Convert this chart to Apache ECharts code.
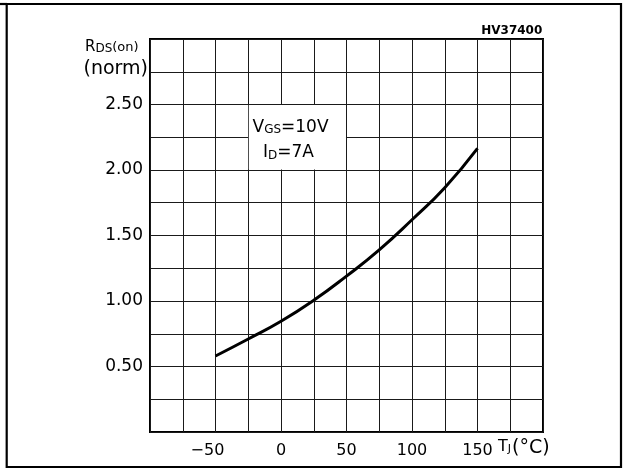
<!DOCTYPE html>
<html>
<head>
<meta charset="utf-8">
<script src="https://cdn.jsdelivr.net/npm/echarts@6/dist/echarts.min.js"></script>
<style>html,body{margin:0;padding:0;background:#fff;}#c{width:625px;height:471px;}</style>
</head>
<body>
<div id="c"></div>
<script>
// Data
var tempC = [-50, -25, 0, 25, 50, 75, 100, 125, 150];
var rdsNorm = [0.58, 0.71, 0.845, 1.005, 1.19, 1.39, 1.62, 1.865, 2.165];
var xTickLabels = [-50, 0, 50, 100, 150];
var yTickLabels = [0.5, 1.0, 1.5, 2.0, 2.5];
var noteBoxX = [-24.6, 49.6];
var noteBoxY = [2.004, 2.496];

var FONT = 'DejaVu Sans';
function has(arr, v) { for (var i = 0; i < arr.length; i++) { if (Math.abs(arr[i] - v) < 1e-6) return true; } return false; }

var chart = echarts.init(document.getElementById('c'), null, {renderer: 'canvas'});
chart.setOption({
  animation: false,
  backgroundColor: '#fff',
  grid: {left: 150, right: 82, top: 39, bottom: 39, show: true, borderColor: '#000', borderWidth: 2, backgroundColor: 'transparent'},
  xAxis: {
    type: 'value', min: -100, max: 200, interval: 25,
    axisLine: {show: false}, axisTick: {show: false},
    splitLine: {show: true, lineStyle: {color: '#1a1a1a', width: 1}},
    axisLabel: {
      show: true, margin: 11, color: '#000', fontFamily: FONT, fontSize: 16,
      formatter: function (v) {
        if (!has(xTickLabels, v)) return '';
        if (v < 0) return '{neg|\u2212' + Math.abs(v) + '}';
        return String(v);
      },
      rich: {neg: {fontFamily: FONT, fontSize: 16, color: '#000', padding: [0, 16, 0, 0]}}
    }
  },
  yAxis: {
    type: 'value', min: 0, max: 3, interval: 0.25,
    axisLine: {show: false}, axisTick: {show: false},
    splitLine: {show: true, lineStyle: {color: '#1a1a1a', width: 1}},
    axisLabel: {
      show: true, margin: 7, color: '#000', fontFamily: FONT, fontSize: 17, padding: [6, 0, 0, 0],
      formatter: function (v) { return has(yTickLabels, v) ? v.toFixed(2) : ''; }
    }
  },
  series: [{
    type: 'line',
    data: tempC.map(function (t, i) { return [t, rdsNorm[i]]; }),
    smooth: true,
    showSymbol: false,
    lineStyle: {color: '#000', width: 3},
    z: 5,
    markArea: {
      silent: true,
      itemStyle: {color: '#fff', borderWidth: 0},
      data: [[{coord: [noteBoxX[0], noteBoxY[1]]}, {coord: [noteBoxX[1], noteBoxY[0]]}]]
    }
  }],
  graphic: [
    {type: 'rect', shape: {x: 6.7, y: 4, width: 614.3, height: 463}, style: {fill: 'none', stroke: '#000', lineWidth: 2.2}, z: 100},
    {type: 'line', shape: {x1: 0, y1: 4, x2: 7, y2: 4}, style: {stroke: '#000', lineWidth: 2.2}, z: 100},
    {type: 'text', x: 542.3, y: 36.5, style: {text: 'HV37400', font: 'bold 12px "DejaVu Sans"', fill: '#000', align: 'right', verticalAlign: 'bottom'}, z: 100},
    {type: 'text', x: 85, y: 54.5, style: {
      text: '{a|R}{b|DS}{c|(on)}', align: 'left', verticalAlign: 'bottom', fill: '#000',
      rich: {
        a: {fontFamily: FONT, fontSize: 15, verticalAlign: 'bottom', fill: '#000'},
        b: {fontFamily: FONT, fontSize: 12, verticalAlign: 'bottom', fill: '#000'},
        c: {fontFamily: FONT, fontSize: 13, verticalAlign: 'bottom', fill: '#000'}
      }}, z: 100},
    {type: 'text', x: 148, y: 69.5, style: {text: '(norm)', fontFamily: FONT, fontSize: 19, fill: '#000', align: 'right', verticalAlign: 'middle'}, z: 100},
    {type: 'text', x: 252.5, y: 136, style: {
      text: '{a|V}{b|GS}{a|=10V}', align: 'left', verticalAlign: 'bottom',
      rich: {
        a: {fontFamily: FONT, fontSize: 17, verticalAlign: 'bottom', fill: '#000'},
        b: {fontFamily: FONT, fontSize: 12, verticalAlign: 'bottom', fill: '#000'}
      }}, z: 100},
    {type: 'text', x: 263, y: 161.5, style: {
      text: '{a|I}{b|D}{a|=7A}', align: 'left', verticalAlign: 'bottom',
      rich: {
        a: {fontFamily: FONT, fontSize: 17, verticalAlign: 'bottom', fill: '#000'},
        b: {fontFamily: FONT, fontSize: 12, verticalAlign: 'bottom', fill: '#000'}
      }}, z: 100},
    {type: 'text', x: 498, y: 454.5, style: {
      text: '{a|T}{b|J}', align: 'left', verticalAlign: 'bottom',
      rich: {
        a: {fontFamily: FONT, fontSize: 16, verticalAlign: 'bottom', fill: '#000'},
        b: {fontFamily: FONT, fontSize: 11, verticalAlign: 'bottom', fill: '#000'}
      }}, z: 100},
    {type: 'text', x: 512, y: 458, style: {text: '(\u00B0C)', fontFamily: FONT, fontSize: 19, fill: '#000', align: 'left', verticalAlign: 'bottom'}, z: 100}
  ]
});
</script>
</body>
</html>
